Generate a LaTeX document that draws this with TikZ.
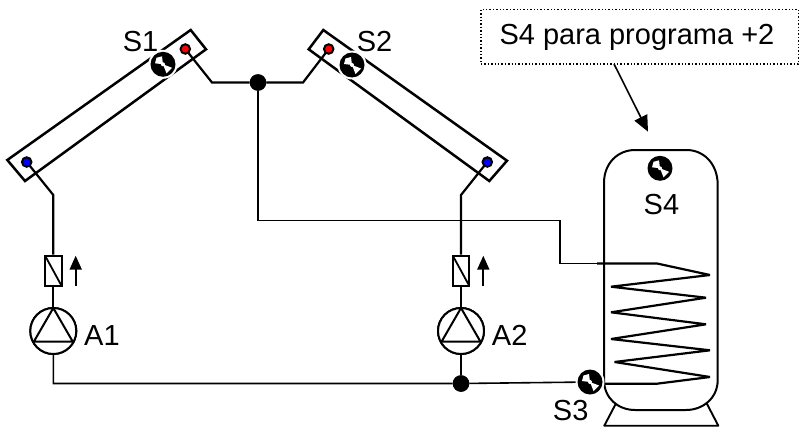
\documentclass[tikz,border=0pt]{standalone}
\usepackage{fontspec}
\setmainfont{Liberation Sans}
\usetikzlibrary{arrows.meta}
\tikzset{
  x=1pt,y=-1pt,
  pipe/.style={draw=black,line width=2.2pt,line join=miter},
  thin pipe/.style={draw=black,line width=1.6pt},
  panel/.style={draw=black,line width=2.5pt,fill=white,line join=miter},
  junction/.style={circle,fill=black,minimum size=16.5pt,inner sep=0pt},
  port/.style={circle,draw=black,line width=2pt,minimum size=9.5pt,inner sep=0pt},
  label/.style={inner sep=0pt,anchor=base west,font=\fontsize{29}{33}\selectfont},
  pumpc/.style={circle,draw=black,line width=2pt,minimum size=46pt,inner sep=0pt,fill=white},
  valve/.style={rectangle,draw=black,line width=2pt,fill=white,minimum width=16.5pt,minimum height=30pt,inner sep=0pt},
}
\newcommand{\sensorat}[1]{%
  \begin{scope}[shift={#1}]
    \fill[white] (0,0) circle (14.5);
    \fill[black] (0,0) circle (12.5);
    \fill[white] (-6.5,-6.5) -- (-1,-8) -- (0,0) -- (-8,-1) -- cycle;
    \fill[white] (9,3.5) -- (0,0) -- (3.5,9) -- cycle;
    \fill[white] (0,0) circle (2);
  \end{scope}}
\begin{document}
\begin{tikzpicture}
\useasboundingbox (0,0) rectangle (800,428);
% collectors
\draw[panel] (7.3,160) -- (25,181) -- (206,49.3) -- (190.7,30) -- cycle;
\draw[panel] (323.3,30) -- (308.7,49.3) -- (489.3,181) -- (507,160.7) -- cycle;
% coordinates
\coordinate (bl) at (26.7,162);
\coordinate (rl) at (185.3,49);
\coordinate (rr) at (328.7,49);
\coordinate (br) at (487.3,162);
\coordinate (kl) at (212,82.5);
\coordinate (kr) at (303,82.5);
\coordinate (dl) at (53.3,195);
\coordinate (dr) at (461,195);
\coordinate (c1) at (258,220.5);
\coordinate (c2) at (560,220.5);
\coordinate (c3) at (560,263.5);
\coordinate (bot) at (53.3,383.5);
% junctions, ports
\node[junction] (j1) at (258,82.5) {};
\node[junction] (j2) at (461,383.5) {};
\node[valve] (v1) at (53.3,270.7) {};
\node[valve] (v2) at (461,270.7) {};
\node[pumpc] (p1) at (53.3,331) {};
\node[pumpc] (p2) at (461,331) {};
\coordinate (s3) at (590,382);
% pipes
\draw[pipe] (rl) -- (kl) -- (j1) -- (kr) -- (rr);
\draw[pipe] (bl) -- (dl) -- (v1);
\draw[pipe] (br) -- (dr) -- (v2);
\draw[pipe] (v1) -- (p1);
\draw[pipe] (v2) -- (p2);
\draw[thin pipe] (j1) -- (c1) -- (c2) -- (c3) -- (606,263.5);
\draw[thin pipe] (p1) -- (bot) -- (j2) -- (s3);
\draw[pipe] (p2) -- (j2);
\node[valve] at (v1) {};
\node[valve] at (v2) {};
\node[pumpc] at (p1) {};
\node[pumpc] at (p2) {};
\node[junction] at (j1) {};
\node[junction] at (j2) {};
\node[port,fill={rgb,255:red,255;green,0;blue,0}] at (rl) {};
\node[port,fill={rgb,255:red,255;green,0;blue,0}] at (rr) {};
\node[port,fill={rgb,255:red,0;green,0;blue,255}] at (bl) {};
\node[port,fill={rgb,255:red,0;green,0;blue,255}] at (br) {};
% valve diagonals, pump triangles
\foreach \x in {53.3,461}{
  \draw[line width=1.8pt] (\x-8.2,255.7) -- (\x+8.2,285.7);
  \draw[line width=2pt,line join=miter] (\x,308) -- (\x-19.5,341.7) -- (\x+19.5,341.7) -- cycle;
}
% flow arrows
\draw[line width=1.9pt,-{Triangle[length=14pt,width=12pt]}] (75.7,286) -- (75.7,255.7);
\draw[line width=1.9pt,-{Triangle[length=14pt,width=12pt]}] (483.3,286) -- (483.3,255.7);
% tank
\draw[line width=1.9pt,line join=round] (616.7,402) -- (604.3,425.7) -- (718.3,425.7) -- (706,402);
\draw[line width=2pt,fill=white] (604,183) .. controls (604,163) and (618,150) .. (635,150) -- (686.7,150) .. controls (703,150) and (717.7,163) .. (717.7,185) -- (717.7,380) .. controls (717.7,398) and (703,410) .. (686,410) -- (635,410) .. controls (618,410) and (604,398) .. (604,380) -- cycle;
% coil
\draw[line width=2.2pt,line join=miter,miter limit=3] (597,263.5) -- (657,263.5) -- (710,275) -- (611,286.7) -- (706,297.7) -- (611,312.3) -- (706,324.3) -- (611,339) -- (710,350.3) -- (614.5,362) -- (710,377) -- (657,383.7) -- (600,383.7);
\draw[thin pipe] (c3) -- (606,263.5);
% sensors
\sensorat{(163,64.3)}
\sensorat{(352,65)}
\sensorat{(590,382)}
\sensorat{(660,168.3)}
% labels
\node[label] (ts1) at (122.7,51.7) {S1};
\node[label] (ts2) at (356.7,51.7) {S2};
\node[label] (ts3) at (552.7,420) {S3};
\node[label] (ts4) at (643.5,214) {S4};
\node[label] (ta1) at (84,345) {A1};
\node[label] (ta2) at (491.7,345) {A2};
% note
\node[draw=black,line width=1.4pt,dotted,minimum width=317.5pt,minimum height=54.7pt,inner sep=0pt] (note) at (639.75,36.7) {};
\node[label] (nt) at (499.3,45) {S4 para programa +2};
\coordinate (noteend) at (648,131.7);
\draw[line width=1.6pt,-{Triangle[length=16pt,width=14pt]}] (614,64) -- (noteend);
\end{tikzpicture}
\end{document}
